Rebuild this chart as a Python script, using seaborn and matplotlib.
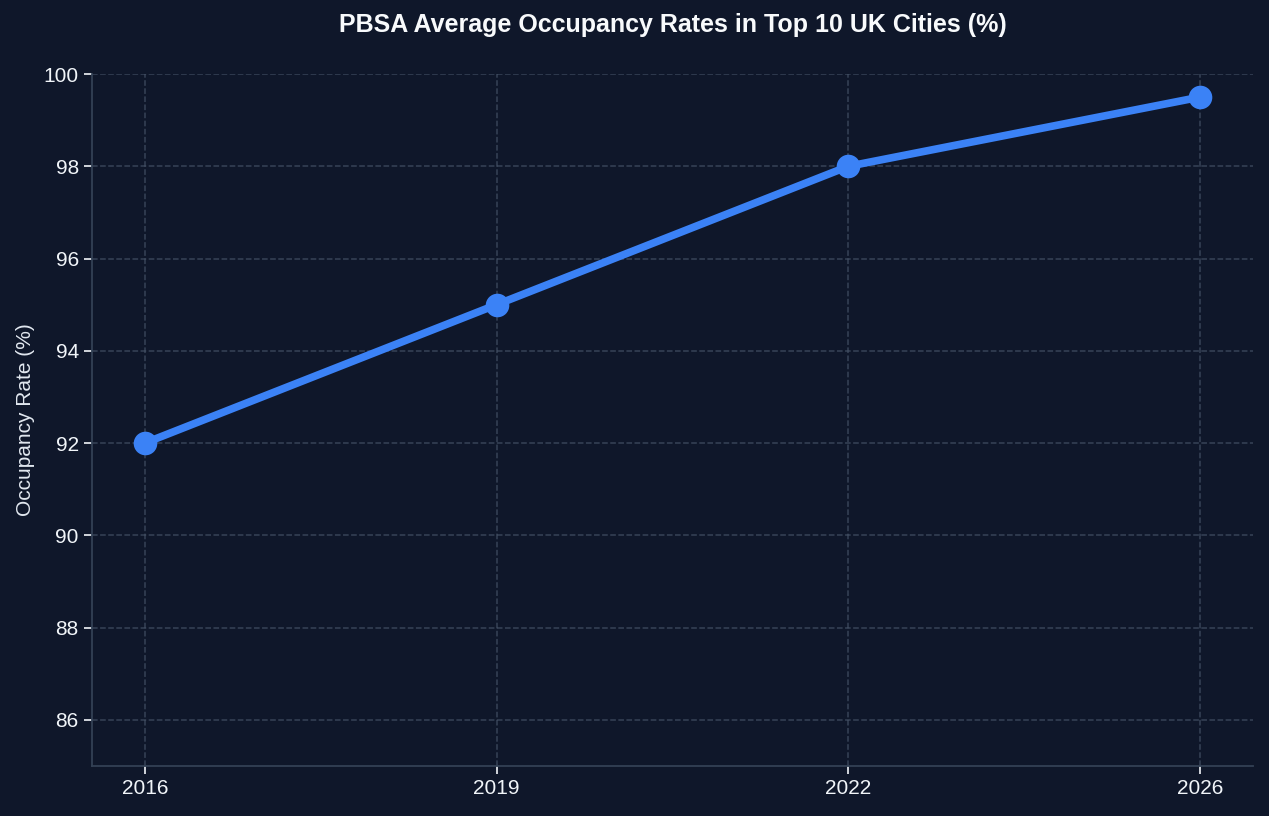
import matplotlib
matplotlib.use("Agg")
import matplotlib.pyplot as plt
import seaborn as sns
import pandas as pd

# data
years = ["2016", "2019", "2022", "2026"]
occupancy = [92.0, 95.0, 98.0, 99.5]
y_ticks = [86, 88, 90, 92, 94, 96, 98, 100]

bg = "#0f172a"
txt = "#e2e8f0"
grid_c = "#475569"
spine_c = "#334155"
line_c = "#3b82f6"

sns.set_theme(style="dark")
plt.rcParams["font.family"] = ["Liberation Sans", "DejaVu Sans"]

df = pd.DataFrame({"year": years, "occ": occupancy})

fig, ax = plt.subplots(figsize=(12.69, 8.16), dpi=100)
fig.patch.set_facecolor(bg)
ax.set_facecolor(bg)
fig.subplots_adjust(left=0.0725, right=0.9874, top=0.9093, bottom=0.0613)

sns.lineplot(data=df, x="year", y="occ", ax=ax, color=line_c, linewidth=5.5,
             marker="o", markersize=17, markeredgewidth=0, sort=False)

ax.set_ylim(85, 100)
ax.set_yticks(y_ticks)
ax.set_xlabel("")
ax.set_ylabel("Occupancy Rate (%)", color=txt, fontsize=15, labelpad=6)
ax.set_title("PBSA Average Occupancy Rates in Top 10 UK Cities (%)",
             color="#f8fafc", fontsize=18, fontweight="bold", pad=30)

ax.grid(True, color=grid_c, linestyle="--", linewidth=1.1, alpha=0.7)
ax.tick_params(colors="#f1f5f9", labelsize=15, length=6, width=1.2, left=True, bottom=True)
for s in ["top", "right"]:
    ax.spines[s].set_visible(False)
for s in ["left", "bottom"]:
    ax.spines[s].set_color(spine_c)
    ax.spines[s].set_linewidth(1.3)

fig.savefig("out.png", facecolor=bg)
